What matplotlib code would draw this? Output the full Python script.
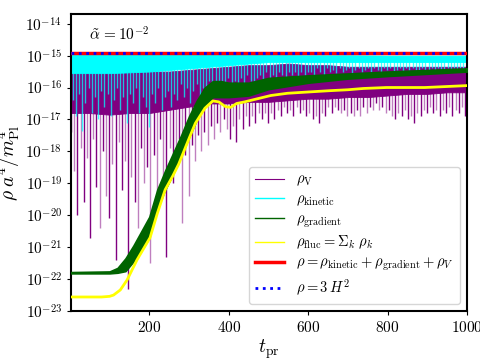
import numpy as np
import matplotlib
matplotlib.use("Agg")
from matplotlib import pyplot as plt
from matplotlib.lines import Line2D
from matplotlib.ticker import LogLocator, NullLocator

plt.rcParams['font.family'] = 'serif'
plt.rcParams['font.serif'] = ['cmr10']
plt.rcParams['mathtext.fontset'] = 'cm'
plt.rcParams['axes.formatter.use_mathtext'] = True

# all energy densities given as log10(rho a^4 / m_Pl^4)

# rho_V: dense band (knots every 50 in t_pr) + downward spikes every 8
v_band_t = np.arange(0, 1001, 50)
v_band_hi = [-15.5, -15.5, -15.5, -15.5, -15.5, -15.5, -15.45, -15.4, -15.35, -15.3, -15.3,
             -15.25, -15.3, -15.3, -15.35, -15.35, -15.35, -15.35, -15.35, -15.35, -15.35]
v_band_lo = [-16.8, -16.8, -16.85, -16.8, -16.8, -16.7, -16.6, -16.5, -16.5, -16.45, -16.45,
             -16.4, -16.35, -16.35, -16.3, -16.3, -16.25, -16.2, -16.2, -16.15, -16.15]
v_spike_t = np.arange(3, 1000, 8)
v_spike = [-17.4, -18.6, -20.0, -17.9, -19.6, -18.2, -20.7, -17.6, -19.1, -20.4,
           -18.0, -19.4, -20.1, -18.4, -21.4, -17.7, -19.2, -18.3, -22.3, -18.8,
           -19.6, -20.4, -17.9, -19.0, -18.5, -21.5, -18.1, -19.4, -17.6, -18.8,
           -21.3, -17.9, -19.0, -18.2, -17.6, -20.25, -18.1, -19.4, -17.8, -18.3,
           -17.5, -18.0, -17.4, -17.8, -17.2, -17.6, -17.1, -17.4, -17.0, -17.3,
           -17.6, -17.2, -17.7, -17.0, -17.3, -16.9, -17.2, -16.9, -17.1, -16.8,
           -17.0, -16.8, -17.1, -16.8, -17.0, -16.7, -16.9, -16.6, -16.8, -16.7,
           -16.9, -16.6, -16.8, -16.7, -16.9, -16.8, -17.0, -16.9, -17.1, -16.8,
           -16.9, -16.6, -16.8, -16.6, -16.7, -16.8, -16.7, -16.9, -16.8, -16.9,
           -16.7, -16.9, -16.6, -16.8, -16.6, -16.7, -16.5, -16.7, -16.6, -16.8,
           -16.7, -16.9, -17.0, -16.8, -16.9, -16.7, -17.0, -16.9, -17.1, -16.8,
           -16.9, -16.7, -16.8, -16.6, -16.8, -16.7, -16.9, -16.7, -16.8, -16.6,
           -16.9, -16.7, -16.8, -16.6, -16.9]

# rho_kinetic
k_band_t = np.arange(0, 1001, 100)
k_band_hi = [-14.97, -14.97, -14.97, -14.98, -14.98, -14.98, -14.99, -14.99, -15.0, -15.0, -15.0]
k_band_lo = [-15.55, -15.55, -15.5, -15.4, -15.3, -15.2, -15.2, -15.2, -15.2, -15.2, -15.2]
k_spike_t = np.arange(7, 1000, 8)
k_spike = [-16.4, -16.9, -16.2, -17.35, -16.5, -16.0, -16.8, -16.3, -17.0, -16.1,
           -16.6, -16.2, -16.9, -16.4, -16.0, -16.7, -16.3, -17.1, -16.2, -16.5,
           -16.0, -16.8, -16.3, -16.6, -17.25,
           -16.2, -16.5, -16.0, -16.7, -16.3, -16.1, -16.6, -16.2, -16.4, -15.9,
           -16.3, -16.0, -16.5, -16.1, -15.9, -16.3, -16.0, -16.2, -15.8, -16.1,
           -15.9, -16.0, -15.8, -16.1, -15.7,
           -16.0, -15.8, -16.1, -15.7, -15.9, -15.6, -15.8, -16.0, -15.7, -15.6,
           -15.8, -15.5, -15.7, -15.6, -15.8, -15.5, -15.6, -15.7, -15.5, -15.6,
           -15.5, -15.7, -15.5, -15.6, -15.5,
           -15.5, -15.6, -15.4, -15.5, -15.6, -15.4, -15.5, -15.45, -15.55, -15.4,
           -15.5, -15.45, -15.4, -15.55, -15.45, -15.4, -15.5, -15.45, -15.4, -15.5,
           -15.4, -15.45, -15.5, -15.4, -15.45,
           -15.4, -15.5, -15.45, -15.4, -15.5, -15.4, -15.45, -15.4, -15.5, -15.45,
           -15.4, -15.45, -15.5, -15.4, -15.45, -15.4, -15.5, -15.45, -15.4, -15.45,
           -15.4, -15.5, -15.4, -15.45, -15.4]

# rho_gradient
g_t = [3, 100, 120, 140, 160, 180, 200, 220, 240, 260, 280, 300, 320, 340, 360,
       380, 400, 450, 500, 600, 700, 800, 900, 1000]
g_lo = [-21.82, -21.82, -21.8, -21.75, -21.45, -21.1, -20.7, -19.8, -19.2, -18.7, -18.15,
        -17.55, -17.0, -16.55, -16.3, -16.3, -16.3, -16.25, -16.05, -15.85, -15.72, -15.64,
        -15.57, -15.5]
g_hi = [-21.78, -21.76, -21.65, -21.35, -20.95, -20.5, -20.05, -19.2, -18.6, -18.05, -17.5,
        -16.9, -16.4, -16.0, -15.8, -15.8, -15.85, -15.85, -15.7, -15.62, -15.56, -15.5,
        -15.45, -15.4]

# rho_fluc
f_t = [3, 80, 100, 110, 127, 144, 169, 202, 220, 240, 260, 274, 300, 316, 340, 360, 375,
       392, 405, 420, 440, 463, 506, 548, 600, 653, 700, 739, 797, 894, 1000]
f_val = [-22.56, -22.56, -22.54, -22.5, -22.34, -22.03, -21.4, -20.7, -19.95, -19.2,
         -18.75, -18.4, -17.6, -17.12, -16.65, -16.42, -16.45, -16.6, -16.62, -16.5,
         -16.45, -16.38, -16.25, -16.18, -16.14, -16.1, -16.07, -16.03, -16.0, -16.0, -15.94]

# total and Friedmann
tot_t = [3, 1000]
tot_val = [-14.91, -14.91]
h_val = [-14.91, -14.91]

xticks = [200, 400, 600, 800, 1000]

fig = plt.figure(figsize=(4.8, 3.6), dpi=100)
ax = fig.add_axes([0.148, 0.136, 0.825, 0.825])

p = lambda a: 10.0 ** np.asarray(a)

ax.fill_between(v_band_t, p(v_band_lo), p(v_band_hi), color='purple', lw=0.6, zorder=1)
ax.vlines(v_spike_t[::2], p(v_spike[::2]), 1e-16, color='purple', lw=1.0, zorder=1)
ax.vlines(v_spike_t[1::2], p(v_spike[1::2]), 1e-16, color='purple', lw=1.0, alpha=0.5, zorder=1)

ax.fill_between(k_band_t, p(k_band_lo), p(k_band_hi), color='cyan', lw=0.6, zorder=2)
ax.vlines(k_spike_t, p(k_spike), 10 ** -15.1, color='cyan', lw=1.0, alpha=0.75, zorder=2)

ax.fill_between(g_t, p(g_lo), p(g_hi), color='darkgreen', lw=1.2, zorder=3)
ax.plot(f_t, p(f_val), color='yellow', lw=2.0, zorder=4)
ax.plot(tot_t, p(tot_val), color='red', lw=2.5, zorder=5)
ax.plot(tot_t, p(h_val), color='blue', lw=2.0, ls=':', zorder=6)

ax.set_yscale('log')
ax.set_xlim(3, 1000)
ax.set_ylim(1e-23, 2e-14)
ax.yaxis.set_major_locator(LogLocator(base=10, numticks=20))
ax.yaxis.set_minor_locator(NullLocator())
ax.set_xticks(xticks)
ax.tick_params(labelsize=11, direction='out', length=3, width=0.8)
for s in ax.spines.values():
    s.set_linewidth(1.5)

ax.set_xlabel(r'$t_{\rm pr}$', fontsize=14, labelpad=2)
ax.set_ylabel(r'$\rho\; a^4/m_{\rm Pl}^4$', fontsize=14)
ax.yaxis.set_label_coords(-0.125, 0.5)
ax.text(0.045, 0.91, r'$\tilde{\alpha}\,=10^{-2}$', transform=ax.transAxes, fontsize=11)

handles = [Line2D([], [], color='purple', lw=0.8),
           Line2D([], [], color='cyan', lw=1.0),
           Line2D([], [], color='darkgreen', lw=1.0),
           Line2D([], [], color='yellow', lw=1.0),
           Line2D([], [], color='red', lw=2.5),
           Line2D([], [], color='blue', lw=2.0, ls=':')]
labels = [r'$\rho_{\rm V}$', r'$\rho_{\rm kinetic}$', r'$\rho_{\rm gradient}$',
          r'$\rho_{\rm fluc} = \Sigma_k\ \rho_k$',
          r'$\rho = \rho_{\rm kinetic} + \rho_{\rm gradient} + \rho_V$',
          r'$\rho = 3\,H^2$']
ax.legend(handles, labels, loc='lower right', fontsize=10.5, labelspacing=0.3)

fig.savefig('out.png', dpi=100)
